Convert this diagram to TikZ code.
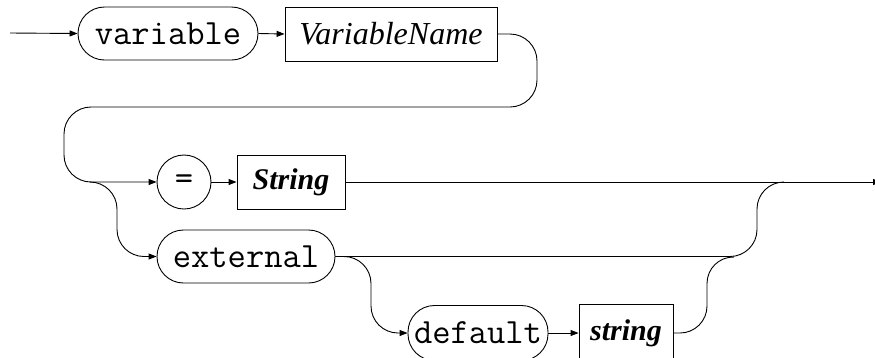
\documentclass[tikz,border=0pt]{standalone}
\usepackage{fontspec}
\setmainfont{Liberation Serif}
\usetikzlibrary{arrows.meta}
\begin{document}
\begin{tikzpicture}[x=1pt,y=-1pt,
  line width=0.9pt,
  arr/.style={-{Triangle[length=8pt,width=6pt]}},
  kw/.style={draw,rectangle,rounded corners=26.5pt,inner sep=0pt,
    minimum height=53pt,font=\ttfamily\fontsize{35.5}{40}\selectfont},
  nt/.style={draw,rectangle,inner sep=0pt,minimum height=54pt,
    font=\itshape\fontsize{32}{38}\selectfont},
  ntb/.style={nt,font=\bfseries\itshape\fontsize{30}{36}\selectfont},
  sym/.style={draw,circle,inner sep=0pt,minimum size=54pt,
    font=\ttfamily\fontsize{35.5}{40}\selectfont},
  rc/.style={rounded corners=27pt}]
\useasboundingbox (0,0) rectangle (875,357);
% nodes
\node[kw,minimum width=180pt] (var) at (168,33.5) {variable};
\node[nt,minimum width=212pt] (vn) at (391,34) {VariableName};
\node[sym] (eq) at (184,182) {=};
\node[ntb,minimum width=108pt] (str) at (291,182) {String};
\node[kw,minimum width=178pt] (ext) at (246,256.5) {external};
\node[kw,minimum width=140pt,minimum height=55pt] (def) at (478,333) {default};
\node[ntb,minimum width=94pt,minimum height=57pt] (str2) at (626,333) {string};
% coordinates
\coordinate (start) at (10,33);
\coordinate (finish) at (881,182);
\coordinate (j1) at (90,182);
\coordinate (j2) at (784,182);
\coordinate (j3) at (734,257);
% connectors
\draw[arr] (start) -- (var.west);
\draw[arr] (var.east) -- (vn.west);
\draw[arr,rc] (vn.east) -- (537,34) -- (537,107) -- (64,107) -- (64,182) -- (eq.west);
\draw[arr] (eq.east) -- (str.west);
\draw[arr] (str.east) -- (finish);
\draw[arr,rc] (j1) -- (117,182) -- (117,256.5) -- (ext.west);
\draw[rc] (ext.east) -- (757,256.5) -- (757,182) -- (j2);
\draw[arr,rc] (ext.east) -- (371,256.5) -- (371,333) -- (def.west);
\draw[arr] (def.east) -- (str2.west);
\draw[rc] (str2.east) -- (707,333) -- (707,256.5) -- (j3);
\end{tikzpicture}
\end{document}
